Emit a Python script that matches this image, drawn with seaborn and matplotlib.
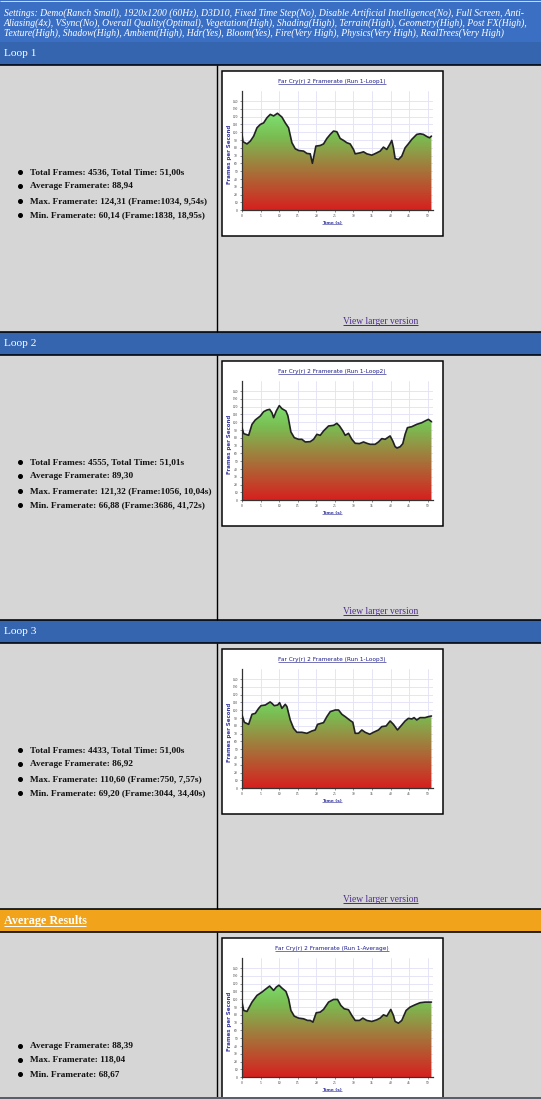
import numpy as np
import matplotlib
matplotlib.use("Agg")
import matplotlib.pyplot as plt
import seaborn as sns
from matplotlib.colors import LinearSegmentedColormap
from matplotlib.patches import Rectangle, Polygon

# ---------------- data ----------------
times_loop1 = [0.0, 0.27, 1.34, 2.24, 3.14, 4.03, 4.93, 5.82, 6.72, 7.62, 8.51, 9.54, 10.75, 11.65, 12.54,
               13.44, 14.34, 15.23, 16.58, 17.47, 18.37, 18.95, 19.89, 21.06, 21.95, 22.85, 23.75, 24.64,
               25.54, 26.43, 27.33, 28.23, 29.12, 30.02, 30.47, 31.81, 32.71, 33.60, 34.95, 36.29, 37.19,
               38.08, 38.98, 39.87, 40.32, 40.77, 41.22, 42.11, 43.01, 43.91, 44.80, 45.70, 47.04, 47.94,
               48.84, 49.73, 50.45, 51.0]
fps_loop1 = [97.2, 87.8, 85.0, 88.6, 95.0, 105.7, 110.0, 112.0, 118.6, 122.9, 120.9, 124.3, 119.4, 112.0, 105.7,
             86.5, 78.8, 76.6, 75.8, 72.8, 72.3, 60.1, 82.2, 83.0, 85.0, 92.0, 97.2, 101.5,
             100.6, 92.0, 89.5, 86.5, 85.0, 77.9, 72.3, 73.6, 74.9, 72.3, 70.6, 73.6, 75.8,
             80.9, 77.9, 85.2, 89.5, 80.0, 66.4, 65.0, 69.3, 80.0, 85.2, 90.8, 97.2, 98.0,
             97.2, 94.6, 92.9, 95.0]

times_loop2 = [0.0, 0.45, 1.79, 2.69, 3.58, 4.93, 5.82, 6.72, 7.44, 8.06, 8.51, 9.23, 10.04, 10.75, 11.83,
               12.37, 13.17, 14.07, 15.23, 16.13, 17.03, 18.37, 19.27, 20.16, 21.06, 21.95, 23.30, 24.64,
               25.54, 26.25, 27.15, 27.78, 28.67, 29.57, 30.47, 31.63, 32.71, 33.60, 34.50, 35.84, 36.74,
               37.63, 38.53, 39.87, 40.59, 41.22, 41.72, 42.56, 43.28, 43.91, 44.53, 45.70, 47.04, 48.39,
               49.28, 50.18, 51.01]
fps_loop2 = [93.0, 85.4, 83.2, 97.3, 102.9, 108.0, 113.5, 115.7, 116.5, 112.2, 105.8, 114.4, 121.3, 117.4, 114.4,
             108.0, 87.5, 80.2, 78.1, 78.1, 74.7, 75.1, 78.1, 84.5, 83.2, 88.8, 95.2, 96.0,
             98.6, 95.2, 88.8, 83.2, 85.8, 78.1, 73.0, 72.6, 74.7, 73.0, 71.7, 71.7, 74.7,
             79.0, 78.1, 82.4, 76.0, 68.7, 66.9, 68.5, 72.5, 84.5, 93.0, 94.3, 97.3, 99.4,
             101.6, 103.7, 100.7]

times_loop3 = [0.0, 0.63, 1.79, 2.69, 3.58, 4.48, 5.11, 6.27, 7.57, 8.06, 8.69, 9.59, 10.13, 10.75, 11.65,
               12.10, 12.99, 13.89, 14.78, 16.13, 17.47, 18.82, 19.71, 20.34, 21.95, 22.85, 23.75, 25.09,
               25.99, 26.88, 27.78, 28.94, 29.84, 30.47, 31.36, 32.26, 33.15, 34.40, 35.39, 36.74, 37.63,
               38.80, 39.87, 40.77, 41.85, 43.01, 43.91, 44.80, 45.70, 46.33, 47.04, 47.94, 49.28, 50.18,
               51.0]
fps_loop3 = [93.9, 84.5, 81.9, 94.8, 96.0, 102.4, 105.8, 106.7, 110.6, 108.8, 105.8, 106.7, 109.7, 102.4, 107.6,
             104.6, 87.5, 76.8, 71.7, 71.7, 70.4, 73.4, 74.7, 81.9, 84.1, 91.8, 98.2, 100.3,
             100.3, 94.8, 91.8, 87.5, 84.5, 70.4, 70.4, 74.7, 71.7, 69.2, 71.7, 74.7, 79.0,
             79.8, 86.2, 81.9, 74.7, 81.1, 86.2, 89.6, 88.8, 90.5, 87.5, 90.5, 90.5, 91.8,
             92.6]

times_avg = [0.0, 0.45, 1.34, 2.69, 4.03, 5.38, 6.27, 7.44, 8.51, 9.23, 9.95, 10.75, 11.83, 12.54, 13.17,
             14.07, 15.23, 16.58, 17.65, 18.37, 19.09, 19.98, 21.06, 21.95, 23.30, 24.64, 25.72, 26.61,
             27.51, 28.67, 29.57, 30.47, 31.63, 32.53, 33.60, 34.95, 36.29, 37.19, 38.08, 38.98, 40.05,
             40.77, 41.22, 42.11, 43.01, 44.18, 45.25, 46.59, 47.94, 49.28, 51.0]
fps_avg = [96.3, 85.6, 84.3, 96.3, 104.9, 109.2, 112.6, 116.9, 111.3, 115.6, 118.0, 114.3, 110.0, 100.6, 85.6,
           78.3, 75.8, 74.9, 72.8, 72.8, 70.6, 82.6, 83.5, 86.9, 96.3, 99.7, 99.7, 92.0,
           87.8, 86.5, 79.2, 72.8, 72.8, 75.8, 72.8, 71.5, 73.6, 75.8, 80.0, 78.3, 86.9,
           79.2, 71.5, 69.3, 72.8, 85.6, 89.9, 92.9, 95.5, 96.3, 96.3]

section_names = ["Loop 1", "Loop 2", "Loop 3", "Average Results"]
chart_titles = ["Far Cry(r) 2 Framerate (Run 1-Loop1)", "Far Cry(r) 2 Framerate (Run 1-Loop2)",
                "Far Cry(r) 2 Framerate (Run 1-Loop3)", "Far Cry(r) 2 Framerate (Run 1-Average)"]
stats = [
    ["Total Frames: 4536, Total Time: 51,00s", "Average Framerate: 88,94",
     "Max. Framerate: 124,31 (Frame:1034, 9,54s)", "Min. Framerate: 60,14 (Frame:1838, 18,95s)"],
    ["Total Frames: 4555, Total Time: 51,01s", "Average Framerate: 89,30",
     "Max. Framerate: 121,32 (Frame:1056, 10,04s)", "Min. Framerate: 66,88 (Frame:3686, 41,72s)"],
    ["Total Frames: 4433, Total Time: 51,00s", "Average Framerate: 86,92",
     "Max. Framerate: 110,60 (Frame:750, 7,57s)", "Min. Framerate: 69,20 (Frame:3044, 34,40s)"],
    ["Average Framerate: 88,39", "Max. Framerate: 118,04", "Min. Framerate: 68,67"],
]
settings_lines = [
    "Settings: Demo(Ranch Small), 1920x1200 (60Hz), D3D10, Fixed Time Step(No), Disable Artificial Intelligence(No), Full Screen, Anti-",
    "Aliasing(4x), VSync(No), Overall Quality(Optimal), Vegetation(High), Shading(High), Terrain(High), Geometry(High), Post FX(High),",
    "Texture(High), Shadow(High), Ambient(High), Hdr(Yes), Bloom(Yes), Fire(Very High), Physics(Very High), RealTrees(Very High)",
]
series = [(times_loop1, fps_loop1), (times_loop2, fps_loop2), (times_loop3, fps_loop3), (times_avg, fps_avg)]
x_ticks = list(range(0, 51, 5))
y_ticks = list(range(0, 141, 10))

# ---------------- layout ----------------
W, H = 541, 1099
sns.set_theme(style="white")
plt.rcParams['font.family'] = ['Liberation Serif', 'DejaVu Serif']

fig = plt.figure(figsize=(W / 100, H / 100), dpi=100)
bg = fig.add_axes([0, 0, 1, 1])
bg.set_xlim(0, W)
bg.set_ylim(H, 0)
bg.axis('off')
PX = 0.72  # one pixel in points


def rect(x0, y0, x1, y1, fc, ec='none', lw=0, z=0):
    bg.add_patch(Rectangle((x0, y0), x1 - x0, y1 - y0, facecolor=fc, edgecolor=ec, linewidth=lw, zorder=z))


def line(xs, ys, color='black', lw=1.0, z=2):
    bg.plot(xs, ys, color=color, lw=lw * PX, zorder=z, solid_capstyle='butt')


GRAY = '#D6D6D6'
BLUE_TOP = '#3B6FC3'
BLUE_BAR = '#3565AE'
ORANGE = '#F0A31B'

rect(0, 0, W, 42, BLUE_TOP)
line([0, W], [1.2, 1.2], color='#C9D8F0', lw=1)

bar_tops = [42, 332, 620, 909]
bar_h = 23
div_x = 216.5
box_x0, box_x1 = 221.7, 442.7

settings_texts = []
for i, s in enumerate(settings_lines):
    settings_texts.append(bg.text(3.5, 12.8 + i * 10.4, s, color='white', fontsize=7, style='italic',
                                  va='center', ha='left', zorder=5))

name_texts, list_texts, link_texts, title_texts, ylab_texts, xlab_texts = [], [], [], [], [], []
underlines = []
chart_axes = []

cmap = LinearSegmentedColormap.from_list(
    'fps', [(0.0, (0.84, 0.13, 0.12)), (0.45, (0.63, 0.49, 0.24)),
            (0.75, (0.48, 0.74, 0.32)), (1.0, (0.49, 0.89, 0.45))])

for i, top in enumerate(bar_tops):
    next_top = bar_tops[i + 1] if i + 1 < len(bar_tops) else H
    is_avg = section_names[i].startswith("Average")
    rect(0, top, W, top + bar_h, ORANGE if is_avg else BLUE_BAR)
    rect(0, top + bar_h, W, next_top, GRAY)
    if i > 0:
        line([0, W], [top, top], lw=1.6)
    line([0, W], [top + bar_h, top + bar_h], lw=1.6)
    line([div_x, div_x], [top + bar_h, next_top], lw=1.4)
    t = bg.text(3.5, top + 12, section_names[i], color='white', fontsize=9,
                fontweight='bold' if is_avg else 'normal', va='center', ha='left', zorder=5)
    name_texts.append(t)
    if is_avg:
        underlines.append((t, 'white', 1.0))

    # chart box
    btop = top + 28.6
    bbot = min(btop + 165.5, H + 20)
    rect(box_x0, btop, box_x1, bbot, 'white', ec='black', lw=1.5 * PX, z=1)

    # stats list
    base = top + (136.5 if is_avg else 130)
    step = 14.3 if is_avg else 14.45
    for k, s in enumerate(stats[i]):
        y = base + k * step
        bg.plot([19.5], [y], marker='o', ms=2.6, color='black', zorder=5)
        list_texts.append(bg.text(30.4, y, s, fontsize=8, fontweight='bold', va='center', ha='left',
                                  color='#111111', zorder=5))

    if not is_avg:
        lt = bg.text(380.4, top + 279.5, "View larger version", fontsize=7, color='#4E2D8E',
                     va='center', ha='center', zorder=5)
        link_texts.append(lt)
        underlines.append((lt, '#4E2D8E', 1.0))

    # chart
    tt = bg.text((box_x0 + box_x1) / 2, btop + 11.3, chart_titles[i], fontsize=4,
                 color='#1C1C8C', family='DejaVu Sans', va='center', ha='center', zorder=5)
    title_texts.append(tt)
    underlines.append((tt, '#1C1C8C', 0.6))
    yl = bg.text(229, btop + 84, "Frames per Second", fontsize=4, rotation=90, color='#3A3AA0',
                 family='DejaVu Sans', fontweight='bold', va='center', ha='center', zorder=5)
    ylab_texts.append(yl)
    xl = bg.text(331.7, btop + 152.3, "Time (s)", fontsize=4.3, color='#3A3AA0',
                 family='DejaVu Sans', fontweight='bold', va='center', ha='center', zorder=5)
    xlab_texts.append(xl)
    underlines.append((xl, '#3A3AA0', 0.6))

    a_left, a_right = 242.0, 433.3
    a_top, a_bot = btop + 20.3, btop + 139.6
    ax = fig.add_axes([a_left / W, 1 - a_bot / H, (a_right - a_left) / W, (a_bot - a_top) / H])
    ax.set_zorder(3)
    ax.set_facecolor('white')
    tx, fy = series[i]
    grad = np.linspace(0, 153, 400).reshape(-1, 1)
    im = ax.imshow(grad, extent=[0, 51.5, 0, 153], origin='lower', aspect='auto', cmap=cmap,
                   vmin=0, vmax=125, zorder=1)
    poly = Polygon(np.column_stack([[tx[0]] + list(tx) + [tx[-1]], [0] + list(fy) + [0]]),
                   closed=True, facecolor='none', edgecolor='none', transform=ax.transData)
    ax.add_patch(poly)
    im.set_clip_path(poly)
    sns.lineplot(x=tx, y=fy, ax=ax, color='#222222', lw=1.2, zorder=3, sort=False, estimator=None)
    ax.set_xlim(0, 51.5)
    ax.set_ylim(0, 153)
    ax.set_xticks(x_ticks)
    ax.set_yticks(y_ticks)
    ax.set_xticklabels([str(v) for v in x_ticks])
    ax.set_yticklabels([str(v) for v in y_ticks])
    ax.grid(True, color='#E0E0F6', lw=0.6, zorder=0)
    ax.set_axisbelow(True)
    ax.tick_params(axis='both', labelsize=2.6, colors='#333333', length=1.5, width=0.4, pad=1.5,
                   direction='out', left=True, bottom=True)
    for sp in ['top', 'right']:
        ax.spines[sp].set_visible(False)
    for sp in ['left', 'bottom']:
        ax.spines[sp].set_color('#333333')
        ax.spines[sp].set_linewidth(0.9)
    ax.set_xlabel('')
    ax.set_ylabel('')
    chart_axes.append(ax)

# bottom edge line
rect(0, 1097.2, W, H, '#58606C', z=6)

# ---------------- fit text sizes to measured widths ----------------
fig.canvas.draw()
r = fig.canvas.get_renderer()


def width(t):
    return t.get_window_extent(r).width


def fit_group(group, ref, target):
    s = ref.get_fontsize() * target / width(ref)
    for t in group:
        t.set_fontsize(s)


fit_group(settings_texts, settings_texts[0], 523.5)
fit_group(list_texts, list_texts[2], 175)
fit_group(link_texts, link_texts[0], 75.6)
fit_group(name_texts[:3], name_texts[0], 32.7)
fit_group(name_texts[3:], name_texts[3], 83)
fit_group(title_texts, title_texts[0], 106)
fit_group(xlab_texts, xlab_texts[0], 20)
fig.canvas.draw()

for t, c, lw in underlines:
    bb = t.get_window_extent(r)
    y = H - bb.y0 - bb.height * 0.12
    line([bb.x0, bb.x1], [y, y], color=c, lw=lw, z=6)

fig.savefig('out.png', dpi=100)
